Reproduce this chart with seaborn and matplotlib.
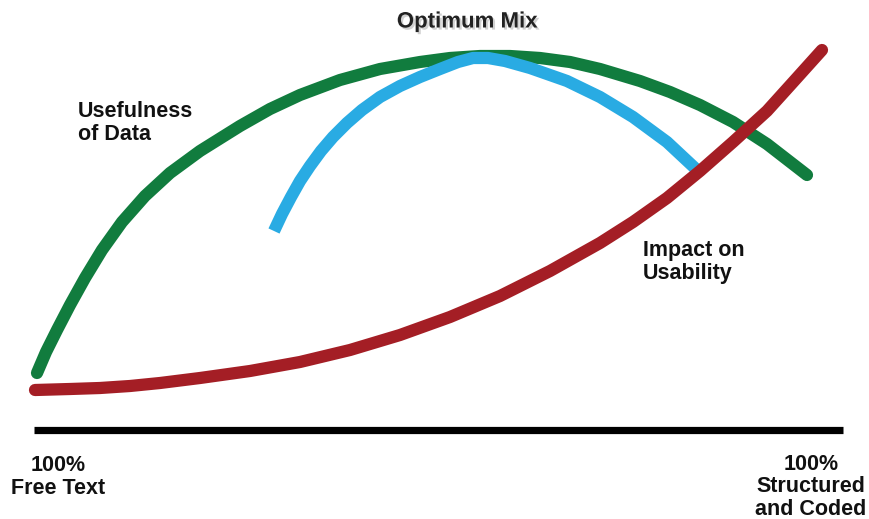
import matplotlib
matplotlib.use("Agg")
import matplotlib.pyplot as plt
import matplotlib.patheffects as pe
import pandas as pd
import seaborn as sns

# Curve samples on the page grid (x to the right, y downward)
usefulness_x = [37, 46, 57, 70, 85, 102, 122, 145, 170, 200, 240, 270, 300, 340, 380,
                420, 450, 480, 510, 540, 570, 600, 640, 670, 700, 733, 767, 807]
usefulness_y = [373, 352, 330, 305, 278, 250, 222, 196, 173, 151, 126, 109, 95, 80, 69,
                62, 58, 56, 56, 58, 62, 69, 81, 92, 105, 122, 144, 175]

optimum_x = [274, 282, 291, 300, 310, 321, 333, 347, 362, 380, 400, 420, 440, 458, 473,
             488, 505, 530, 567, 600, 633, 667, 697]
optimum_y = [231, 214, 197, 181, 166, 151, 137, 123, 110, 97, 86, 77, 69, 62, 58,
             58, 61, 68, 81, 97, 117, 142, 170]

impact_x = [35, 70, 100, 130, 160, 200, 250, 300, 350, 400, 450, 500, 550, 600, 633,
            667, 700, 733, 767, 795, 822]
impact_y = [390, 389, 388, 386, 383, 378, 371, 362, 350, 335, 317, 296, 271, 243, 222,
            198, 171, 142, 111, 80, 50]

GREEN = "#117c3e"
BLUE = "#29abe3"
RED = "#a41e25"

sns.set_theme(style="white")
plt.rcParams["font.family"] = ["Liberation Sans", "DejaVu Sans"]

fig = plt.figure(figsize=(8.7, 5.19), dpi=100)
ax = fig.add_axes([0, 0, 1, 1])

useful = pd.DataFrame({"x": usefulness_x, "y": usefulness_y})
optimum = pd.DataFrame({"x": optimum_x, "y": optimum_y})
impact = pd.DataFrame({"x": impact_x, "y": impact_y})

line_kw = dict(x="x", y="y", sort=False, lw=8.8, solid_joinstyle="round", ax=ax)
sns.lineplot(data=useful, color=GREEN, solid_capstyle="round", **line_kw)
sns.lineplot(data=optimum, color=BLUE, solid_capstyle="butt", **line_kw)
sns.lineplot(data=impact, color=RED, solid_capstyle="round", **line_kw)

ax.set_xlim(0, 870)
ax.set_ylim(519, 0)
ax.axis("off")

# Baseline axis bar
ax.hlines(429.5, 34, 843, color="black", lw=5.2, capstyle="butt")

label_kw = dict(fontsize=15.5, fontweight="bold", color="#111111", linespacing=1.1)

ax.text(467, 22, "Optimum Mix", ha="center", va="center", fontsize=16,
        fontweight="bold", color="#222222",
        path_effects=[pe.withSimplePatchShadow(offset=(1.5, -1.5),
                                               shadow_rgbFace="#999999", alpha=0.45)])
ax.text(78, 140, "Usefulness\nof Data", ha="left", va="baseline", **label_kw)
ax.text(643, 279, "Impact on\nUsability", ha="left", va="baseline", **label_kw)
ax.text(58, 494, "100%\nFree Text", ha="center", va="baseline",
        multialignment="center", **label_kw)
ax.text(811, 515, "100%\nStructured\nand Coded", ha="center", va="baseline",
        multialignment="center", **label_kw)

fig.savefig("out.png", dpi=100)
